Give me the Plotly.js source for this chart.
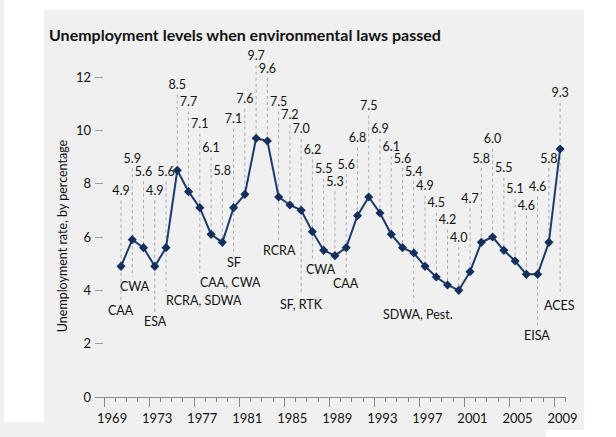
<!DOCTYPE html>
<html>
<head>
<meta charset="utf-8">
<script src="https://cdn.plot.ly/plotly-3.0.1.min.js"></script>
<style>
html,body{margin:0;padding:0;background:#fff;}
#chart{width:616px;height:437px;}
</style>
</head>
<body>
<div id="chart"></div>
<script>
// ---- data ----
const years = [1970,1971,1972,1973,1974,1975,1976,1977,1978,1979,1980,1981,1982,1983,1984,1985,1986,1987,1988,1989,
               1990,1991,1992,1993,1994,1995,1996,1997,1998,1999,2000,2001,2002,2003,2004,2005,2006,2007,2008,2009];
const rates = [4.9,5.9,5.6,4.9,5.6,8.5,7.7,7.1,6.1,5.8,7.1,7.6,9.7,9.6,7.5,7.2,7.0,6.2,5.5,5.3,
               5.6,6.8,7.5,6.9,6.1,5.6,5.4,4.9,4.5,4.2,4.0,4.7,5.8,6.0,5.5,5.1,4.6,4.6,5.8,9.3];
const lawYears = [1970,1971,1973,1974,1977,1980,1984,1986,1987,1990,1996,2007,2009];
const lawNames = ['CAA','CWA','ESA','RCRA, SDWA','CAA, CWA','SF','RCRA','SF, RTK','CWA','CAA','SDWA, Pest.','EISA','ACES'];
const tickYears = ['1969','1973','1977','1981','1985','1989','1993','1997','2001','2005','2009'];

// ---- label layout (positions, in axis units) ----
const valueLabelY = [7.68,8.90,8.40,7.68,8.40,11.66,11.03,10.19,9.31,8.44,10.38,11.13,12.74,12.28,11.03,10.53,10.0,9.23,8.50,8.03,
                     8.68,9.68,10.88,10.0,9.35,8.91,8.42,7.88,7.23,6.59,5.94,7.40,8.91,9.63,8.54,7.75,7.13,7.84,8.91,11.35];
const lawTextX   = [1970.0,1971.24,1973.02,1973.85,1976.8,1980.06,1984.06,1986.01,1987.74,1989.94,1996.38,2006.91,2008.97];
const lawAnchor  = ['center','center','center','left','left','center','center','center','center','center','center','center','center'];
const lawTextY   = [3.25,4.13,2.85,3.63,4.31,5.06,5.48,3.48,4.78,4.25,3.1,2.29,3.44];
const lawLineEnd = [3.56,4.5,3.14,3.94,4.65,5.31,5.88,3.88,5.07,4.65,3.56,2.63,3.81];

const FONT = 'Lato, "Open Sans", sans-serif';
const W = 616, H = 437;
const M = {l:95, r:50, t:20, b:40};
const PW = W - M.l - M.r, PH = H - M.t - M.b;
const px = v => (v - M.l) / PW;
const py = v => (H - M.b - v) / PH;

// leader lines
const lx = [], ly = [];
years.forEach((yr, i) => {
  const k = lawYears.indexOf(yr);
  const bottom = k >= 0 ? lawLineEnd[k] : rates[i];
  lx.push(yr, yr, null);
  ly.push(valueLabelY[i] - 0.32, bottom, null);
});

const traces = [
  {x: lx, y: ly, mode: 'lines', line: {color: '#a8a8a8', width: 1, dash: 'dot'}, hoverinfo: 'skip', cliponaxis: false},
  {x: years, y: rates, mode: 'lines+markers', line: {color: '#1b3a6b', width: 2},
   marker: {symbol: 'diamond', size: 7, color: '#142f5c'}, cliponaxis: false},
  {x: years, y: valueLabelY, mode: 'text', text: rates.map(v => v.toFixed(1)),
   textposition: 'middle center', textfont: {family: FONT, size: 12.5, color: '#111'}, cliponaxis: false, hoverinfo: 'skip'}
];

const majorTicks = tickYears.map(t => Number(t) - 0.5);

const annotations = lawNames.map((n, k) => ({
  x: lawTextX[k], y: lawTextY[k], xref: 'x', yref: 'y', text: n, showarrow: false,
  xanchor: lawAnchor[k], yanchor: 'middle', font: {family: FONT, size: 12.5, color: '#111'}
}));
annotations.push({
  x: px(62), y: 6.03, xref: 'paper', yref: 'y', text: 'Unemployment rate, by percentage',
  textangle: -90, showarrow: false, xanchor: 'center', yanchor: 'middle',
  font: {family: FONT, size: 12.5, color: '#111'}
});

const shapes = [
  {type: 'rect', xref: 'paper', yref: 'paper', x0: px(0), x1: px(4), y0: py(437), y1: py(0), fillcolor: '#f0f0f0', line: {width: 0}, layer: 'below'},
  {type: 'rect', xref: 'paper', yref: 'paper', x0: px(44), x1: px(584), y0: py(430), y1: py(9.5), fillcolor: '#f0f0f0', line: {width: 0}, layer: 'below'},
  {type: 'rect', xref: 'paper', yref: 'paper', x0: px(0), x1: px(546), y0: py(437), y1: py(422), fillcolor: '#f0f0f0', line: {width: 0}, layer: 'below'}
];

const layout = {
  width: W, height: H, margin: M,
  paper_bgcolor: '#ffffff', plot_bgcolor: 'rgba(0,0,0,0)',
  showlegend: false,
  title: {text: 'Unemployment levels when environmental laws passed', xref: 'container', yref: 'container',
          x: 49 / W, xanchor: 'left', y: 1 - 35 / H, yanchor: 'middle',
          font: {family: FONT, size: 16, color: '#111', weight: 'bold'}},
  xaxis: {range: [1970 - 26 / 11.26, 1970 + 445 / 11.26], showgrid: false, zeroline: false,
          showline: true, linecolor: '#8a8a8a', linewidth: 1,
          tickmode: 'array', tickvals: majorTicks, ticktext: tickYears,
          ticks: 'outside', ticklen: 9, tickcolor: '#8a8a8a', tickwidth: 1,
          ticklabelshift: 8,
          minor: {tickmode: 'linear', tick0: 1968.5, dtick: 1, ticks: 'outside', ticklen: 4, tickcolor: '#8a8a8a', showgrid: false},
          tickfont: {family: FONT, size: 13, color: '#111'}, fixedrange: true},
  yaxis: {range: [0, PH / 320 * 12], showgrid: false, zeroline: false, showline: false,
          tickmode: 'array', tickvals: [0, 2, 4, 6, 8, 10, 12],
          ticks: 'inside', ticklen: 8, tickcolor: '#9a9a9a', tickwidth: 1, ticklabelstandoff: 3,
          tickfont: {family: FONT, size: 13, color: '#111'}, fixedrange: true},
  shapes: shapes,
  annotations: annotations
};

Plotly.newPlot('chart', traces, layout, {displayModeBar: false, staticPlot: true});
</script>
</body>
</html>
